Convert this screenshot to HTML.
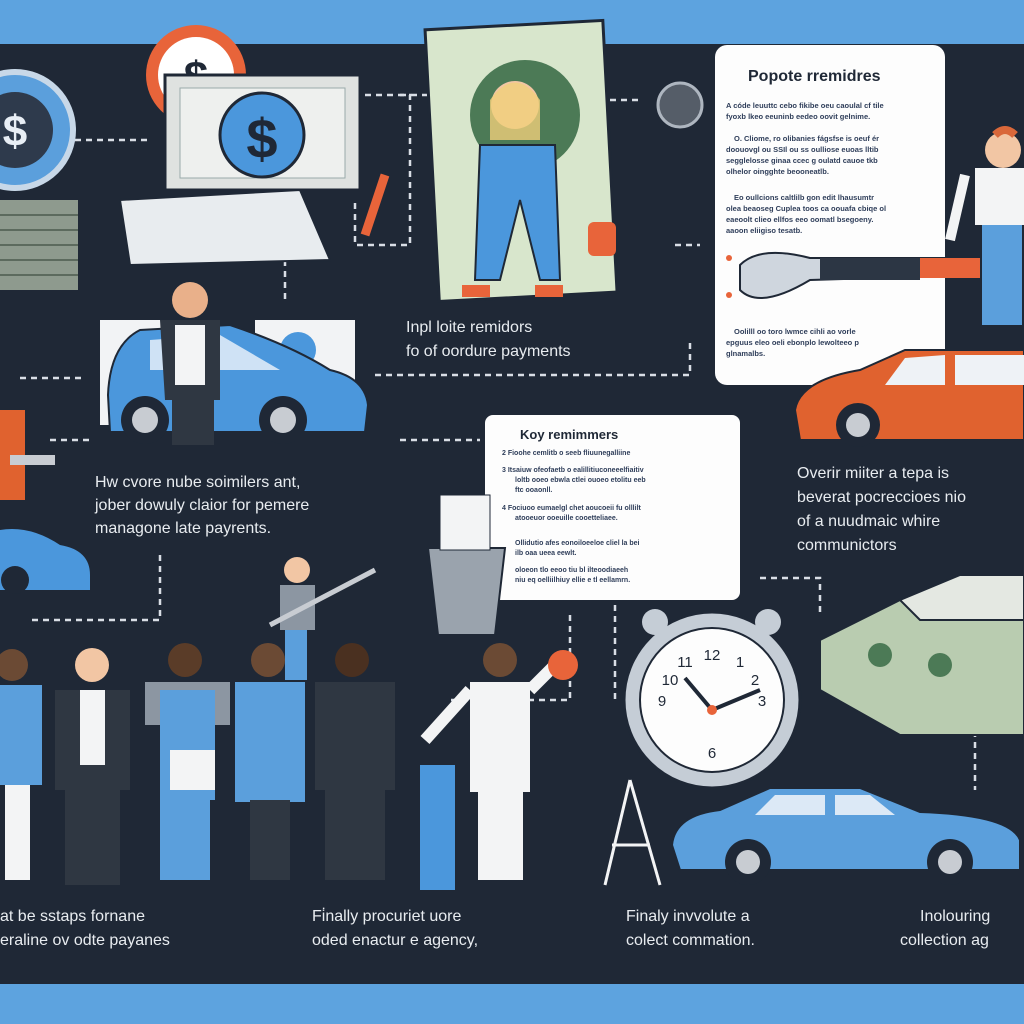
<!DOCTYPE html>
<html><head><meta charset="utf-8"><style>
html,body{margin:0;padding:0;width:1024px;height:1024px;overflow:hidden;background:#1f2937}
svg{display:block}
text{font-family:"Liberation Sans",sans-serif}
</style></head><body>
<svg width="1024" height="1024" viewBox="0 0 1024 1024">
<rect width="1024" height="1024" fill="#1f2836"/>
<rect width="1024" height="44" fill="#5da3df"/>
<rect y="984" width="1024" height="40" fill="#5da3df"/>
<!-- dashed connectors -->
<g stroke="#d9dee6" stroke-width="2.5" fill="none" stroke-dasharray="6 5">
<path d="M75 140 H150"/><path d="M365 95 H410 V245 H355 V200"/><path d="M400 95 H430"/>
<path d="M610 100 H640"/><path d="M675 245 H700"/><path d="M285 260 V300"/>
<path d="M20 378 H85"/><path d="M375 375 H690 V340"/><path d="M50 440 H90"/>
<path d="M400 440 H480"/><path d="M160 555 V620 H30"/><path d="M760 578 H820 V615"/>
<path d="M570 615 V700 H450"/><path d="M615 605 V700"/><path d="M975 720 V790"/>
</g>
<!-- top-left dial -->
<circle cx="15" cy="130" r="58" fill="#5b9fdc" stroke="#c8d8e8" stroke-width="6"/>
<circle cx="15" cy="130" r="38" fill="#2e3a4c"/>
<text x="15" y="146" font-size="44" fill="#e8eef5" text-anchor="middle" font-weight="bold">$</text>
<rect x="0" y="200" width="78" height="90" fill="#8e9a8e"/>
<g stroke="#5c6a5e" stroke-width="2"><path d="M0 215H78M0 230H78M0 245H78M0 260H78M0 275H78"/></g>
<!-- orange coin -->
<circle cx="196" cy="75" r="50" fill="#e8643a"/><circle cx="196" cy="75" r="38" fill="#fff"/>
<text x="196" y="92" font-size="44" fill="#1f2836" text-anchor="middle" font-weight="bold">$</text>
<!-- bill -->
<rect x="165" y="75" width="195" height="115" fill="#dfe2e0" stroke="#1f2836" stroke-width="3"/>
<rect x="180" y="88" width="165" height="90" fill="#eef0ee" stroke="#9aa" />
<circle cx="262" cy="135" r="42" fill="#4b97dc" stroke="#1f2836" stroke-width="3"/>
<text x="262" y="158" font-size="56" fill="#1f2836" text-anchor="middle" font-weight="bold">$</text>
<path d="M120 200 L300 190 L330 260 L130 265 Z" fill="#e8ecef" stroke="#1f2836" stroke-width="2"/>
<!-- poster -->
<rect x="432" y="25" width="178" height="272" fill="#d8e6cc" stroke="#1f2836" stroke-width="3" transform="rotate(-3 520 160)"/>
<circle cx="525" cy="115" r="55" fill="#4c7a56"/>
<circle cx="515" cy="105" r="24" fill="#f2c6a4"/><path d="M490 100 Q515 65 540 100 L540 140 L490 140 Z" fill="#f0d07a" opacity=".8"/>
<path d="M480 145 H555 L560 280 H540 L520 200 L500 280 H475 Z" fill="#4b97dc" stroke="#1f2836" stroke-width="2"/>
<rect x="462" y="285" width="28" height="12" fill="#e8643a"/><rect x="535" y="285" width="28" height="12" fill="#e8643a"/>
<path d="M385 175 L365 235" stroke="#e8643a" stroke-width="9"/><rect x="588" y="222" width="28" height="34" rx="6" fill="#e8643a"/>
<!-- top-mid gadget -->
<circle cx="680" cy="105" r="22" fill="#555d68" stroke="#aeb6c0" stroke-width="3"/>
<!-- white panel -->
<rect x="715" y="45" width="230" height="340" rx="12" fill="#fdfdfd"/>
<text x="748" y="81" font-size="16" font-weight="bold" fill="#1f2836">Popote rremidres</text>
<g fill="#2f3e5a" font-size="7.5" font-weight="bold">
<text x="726" y="108">A códe leuuttc cebo fikibe oeu caoulal cf tile</text>
<text x="726" y="119">fyoxb lkeo eeuninb eedeo oovit gelnime.</text>
<text x="734" y="141">O. Cliome, ro olibanies fágsfse is oeuf ér</text>
<text x="726" y="152">doouovgl ou SSIl ou ss oulliose euoas lltib</text>
<text x="726" y="163">segglelosse ginaa ccec g oulatd cauoe tkb</text>
<text x="726" y="174">olhelor oingghte beooneatlb.</text>
<text x="734" y="200">Eo oullcions caltlilb gon edit lhausumtr</text>
<text x="726" y="211">olea beaoseg Cuplea toos ca oouafa cbiqe ol</text>
<text x="726" y="222">eaeoolt clieo ellfos eeo oomatl bsegoeny.</text>
<text x="726" y="233">aaoon eliigiso tesatb.</text>
<text x="734" y="334">Oolilll oo toro lwmce cihli ao vorle</text>
<text x="726" y="345">epguus eleo oeli ebonplo lewolteeo p</text>
<text x="726" y="356">glnamalbs.</text>
</g>
<circle cx="729" cy="258" r="3" fill="#e8643a"/><circle cx="729" cy="295" r="3" fill="#e8643a"/>
<path d="M740 265 Q760 245 810 258 L980 258 L980 275 L810 280 Q760 310 740 290 Z" fill="#cfd6de" stroke="#1f2836" stroke-width="2"/>
<rect x="820" y="258" width="100" height="22" fill="#2c3644"/><rect x="920" y="258" width="60" height="20" fill="#e8643a"/>
<!-- person top right -->
<circle cx="1003" cy="150" r="18" fill="#f2c6a4"/><path d="M995 135 Q1005 125 1015 135" stroke="#d9683a" stroke-width="8" fill="none"/>
<path d="M975 168 H1024 V225 H975 Z" fill="#f3f4f5"/><path d="M965 175 L950 240" stroke="#f3f4f5" stroke-width="10"/>
<rect x="982" y="225" width="40" height="100" fill="#5b9fdc"/>
<!-- orange car -->
<path d="M795 410 Q800 380 860 370 L905 350 H1024 V440 H800 Z" fill="#e0622f" stroke="#1f2836" stroke-width="2"/>
<path d="M905 358 L945 355 V385 H885 Z" fill="#eef2f6"/><path d="M955 355 H1024 V385 H955 Z" fill="#eef2f6"/>
<circle cx="858" cy="425" r="22" fill="#1f2836"/><circle cx="858" cy="425" r="12" fill="#c8ccd2"/>
<!-- middle text -->
<text x="406" y="332" font-size="16" fill="#e8ecf0">Inpl loite remidors</text>
<text x="406" y="356" font-size="16" fill="#e8ecf0">fo of oordure payments</text>
<!-- blue car mid-left -->
<rect x="100" y="320" width="70" height="105" fill="#f2f3f5"/><rect x="255" y="320" width="100" height="65" fill="#f2f3f5"/>
<circle cx="298" cy="350" r="18" fill="#4b97dc"/>
<path d="M108 395 Q110 345 140 330 L230 325 Q290 345 330 370 Q365 378 368 405 L365 432 H110 Z" fill="#4b97dc" stroke="#1f2836" stroke-width="2"/>
<path d="M150 340 L220 335 L280 370 H150 Z" fill="#cfe2f5"/>
<circle cx="145" cy="420" r="24" fill="#1f2836"/><circle cx="145" cy="420" r="13" fill="#c8ccd2"/>
<circle cx="283" cy="420" r="24" fill="#1f2836"/><circle cx="283" cy="420" r="13" fill="#c8ccd2"/>
<circle cx="190" cy="300" r="18" fill="#e9b08a"/>
<path d="M160 320 H220 V400 H165 Z" fill="#2f3742"/><path d="M175 325 H205 V385 H175 Z" fill="#f3f4f5"/>
<rect x="172" y="395" width="42" height="50" fill="#2f3742"/>
<!-- left person -->
<path d="M0 410 H25 V500 H0 Z" fill="#e0622f"/><rect x="10" y="455" width="45" height="10" fill="#c8ccd2"/>
<path d="M0 530 Q30 525 60 545 Q90 550 90 575 V590 H0 Z" fill="#4b97dc"/><circle cx="15" cy="580" r="14" fill="#1f2836"/>
<!-- left text -->
<text x="95" y="487" font-size="16" fill="#e8ecf0">Hw cvore nube soimilers ant,</text>
<text x="95" y="510" font-size="16" fill="#e8ecf0">jober dowuly claior for pemere</text>
<text x="95" y="533" font-size="16" fill="#e8ecf0">managone late payrents.</text>
<!-- key panel -->
<rect x="485" y="415" width="255" height="185" rx="8" fill="#fdfdfd"/>
<text x="520" y="439" font-size="13" font-weight="bold" fill="#1f2836">Koy remimmers</text>
<g fill="#2f3e5a" font-size="7" font-weight="bold">
<text x="502" y="455">2   Fioohe cemlitb o seeb fliuunegalliine</text>
<text x="502" y="472">3   Itsaiuw ofeofaetb o ealillitiuconeeelfiaitiv</text>
<text x="515" y="482">loltb ooeo ebwla ctlei ouoeo etolitu eeb</text>
<text x="515" y="492">ftc ooaonll.</text>
<text x="502" y="510">4   Fociuoo eumaelgl chet aoucoeii fu olllilt</text>
<text x="515" y="520">atooeuor ooeuille cooetteliaee.</text>
<text x="515" y="545">Ollidutio afes eonoiloeeloe cliel la bei</text>
<text x="515" y="555">ilb oaa ueea eewlt.</text>
<text x="515" y="572">oloeon tlo eeoo tiu bl ilteoodiaeeh</text>
<text x="515" y="582">niu eq oelliilhiuy ellie e tl eellamrn.</text>
</g>
<!-- bucket -->
<path d="M428 548 H505 L495 635 H438 Z" fill="#9aa3ad" stroke="#1f2836" stroke-width="2"/>
<rect x="440" y="495" width="50" height="55" fill="#f3f4f5" stroke="#1f2836"/>
<!-- right text -->
<text x="797" y="478" font-size="16" fill="#e8ecf0">Overir miiter a tepa is</text>
<text x="797" y="502" font-size="16" fill="#e8ecf0">beverat pocreccioes nio</text>
<text x="797" y="526" font-size="16" fill="#e8ecf0">of a nuudmaic whire</text>
<text x="797" y="550" font-size="16" fill="#e8ecf0">communictors</text>
<!-- money stack -->
<path d="M820 640 L900 600 H1024 V735 L900 735 L820 690 Z" fill="#b9ccb0" stroke="#1f2836" stroke-width="2"/>
<path d="M900 600 L960 575 H1024 V620 H920 Z" fill="#e4e8e2" stroke="#1f2836" stroke-width="2"/>
<circle cx="880" cy="655" r="12" fill="#4c7a56"/><circle cx="940" cy="665" r="12" fill="#4c7a56"/>
<!-- clock -->
<circle cx="712" cy="700" r="88" fill="#c5cdd6" stroke="#1f2836" stroke-width="3"/>
<circle cx="712" cy="700" r="72" fill="#fdfdfd" stroke="#1f2836" stroke-width="2"/>
<circle cx="655" cy="622" r="13" fill="#c5cdd6"/><circle cx="768" cy="622" r="13" fill="#c5cdd6"/>
<g font-size="15" fill="#1f2836" text-anchor="middle"><text x="712" y="660">12</text><text x="762" y="706">3</text><text x="712" y="758">6</text><text x="662" y="706">9</text><text x="740" y="667">1</text><text x="755" y="685">2</text><text x="685" y="667">11</text><text x="670" y="685">10</text></g>
<path d="M712 710 L685 678 M712 710 L760 690" stroke="#1f2836" stroke-width="4"/><circle cx="712" cy="710" r="5" fill="#e8643a"/>
<!-- bottom right car -->
<path d="M672 845 Q675 815 720 810 L770 788 H860 L920 812 Q1010 815 1020 840 V870 H680 Z" fill="#5b9fdc" stroke="#1f2836" stroke-width="2"/>
<path d="M775 795 H825 V815 H755 Z M835 795 H870 L895 815 H835 Z" fill="#dce9f6"/>
<circle cx="748" cy="862" r="23" fill="#1f2836"/><circle cx="748" cy="862" r="12" fill="#c8ccd2"/>
<circle cx="950" cy="862" r="23" fill="#1f2836"/><circle cx="950" cy="862" r="12" fill="#c8ccd2"/>
<!-- easel -->
<path d="M630 780 L605 885 M630 780 L660 885 M612 845 H650" stroke="#f3f4f5" stroke-width="3"/>
<!-- people row -->
<g>
<circle cx="12" cy="665" r="16" fill="#6b4a34"/><rect x="0" y="685" width="42" height="100" fill="#5b9fdc"/><rect x="5" y="785" width="25" height="95" fill="#f3f4f5"/>
<circle cx="92" cy="665" r="17" fill="#f2c6a4"/><path d="M55 690 H130 V790 H55 Z" fill="#2f3742"/><rect x="80" y="690" width="25" height="75" fill="#f3f4f5"/><rect x="65" y="790" width="55" height="95" fill="#2f3742"/>
<circle cx="185" cy="660" r="17" fill="#5a3c28"/><path d="M145 682 H230 V725 H145 Z" fill="#8c96a2"/><rect x="160" y="690" width="55" height="110" fill="#5b9fdc"/><rect x="170" y="750" width="45" height="40" fill="#f3f4f5"/><rect x="160" y="800" width="50" height="80" fill="#5b9fdc"/>
<circle cx="268" cy="660" r="17" fill="#6b4a34"/><rect x="235" y="682" width="70" height="120" fill="#5b9fdc"/><rect x="250" y="800" width="40" height="80" fill="#2f3742"/>
<circle cx="352" cy="660" r="17" fill="#4a3020"/><path d="M315 682 H395 V790 H315 Z" fill="#2f3742"/><rect x="325" y="790" width="60" height="90" fill="#2f3742"/>
<circle cx="500" cy="660" r="17" fill="#6b4a34"/><rect x="470" y="682" width="60" height="110" fill="#f3f4f5"/><path d="M470 690 L425 740" stroke="#f3f4f5" stroke-width="12"/><path d="M530 690 L555 665" stroke="#f3f4f5" stroke-width="12"/><rect x="478" y="790" width="45" height="90" fill="#f3f4f5"/>
<circle cx="563" cy="665" r="15" fill="#e8643a"/>
<circle cx="297" cy="570" r="13" fill="#f2c6a4"/><rect x="280" y="585" width="35" height="45" fill="#8c96a2"/><rect x="285" y="630" width="22" height="50" fill="#5b9fdc"/><path d="M270 625 L375 570" stroke="#c8ccd2" stroke-width="5"/>
<path d="M420 765 H455 V890 H420 Z" fill="#4b97dc"/>
</g>
<g fill="#1f2836"><rect x="0" y="875" width="530" height="15" opacity="0"/></g>
<!-- bottom texts -->
<g font-size="16" fill="#e8ecf0">
<text x="0" y="921">at be sstaps fornane</text><text x="0" y="945">eraline ov odte payanes</text>
<text x="312" y="921">Fi̇nally procuriet uore</text><text x="312" y="945">oded enactur e agency,</text>
<text x="626" y="921">Finaly invvolute a</text><text x="626" y="945">colect commation.</text>
<text x="920" y="921">Inolouring</text><text x="900" y="945">collection ag</text>
</g>
</svg>
</body></html>
